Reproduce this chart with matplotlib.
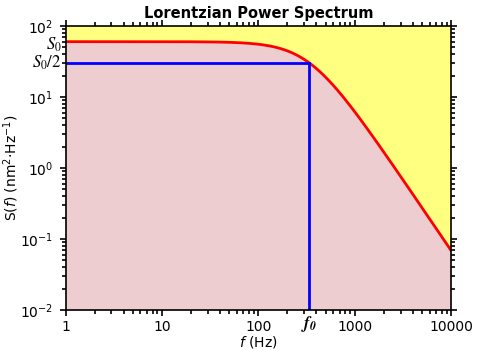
import numpy as np
import matplotlib.pyplot as plt
import matplotlib.transforms as mtransforms
from matplotlib.ticker import LogLocator, FixedLocator, NullFormatter

# Lorentzian parameters
S0 = 60.0        # plateau level (nm^2/Hz)
f0 = 340.0       # corner frequency (Hz)

x_ticks = [1, 10, 100, 1000, 10000]
x_tick_labels = ['1', '10', '100', '1000', '10000']
y_ticks = [1e-2, 1e-1, 1e0, 1e1, 1e2]
y_tick_labels = [r'$10^{-2}$', r'$10^{-1}$', r'$10^{0}$', r'$10^{1}$', r'$10^{2}$']

f = np.logspace(0, 4, 400)
S = S0 / (1 + (f / f0) ** 2)

fig = plt.figure(figsize=(5, 3.5), dpi=100)
ax = fig.add_axes([0.131, 0.114, 0.771, 0.812])

ax.set_xscale('log')
ax.set_yscale('log')
ax.set_xlim(1, 10000)
ax.set_ylim(1e-2, 1e2)

# yellow above the curve, pink below it
ax.set_facecolor('#ffff80')
ax.fill_between(f, 1e-2, S, color='#eecdd0', linewidth=0)
ax.plot(f, S, color='#ff0000', lw=2)

# half-power markers
ax.plot([1, f0], [S0 / 2, S0 / 2], color='#0000ff', lw=2)
ax.plot([f0, f0], [1e-2, S0 / 2], color='#0000ff', lw=2)

ax.xaxis.set_major_locator(FixedLocator(x_ticks))
ax.set_xticklabels(x_tick_labels)
ax.yaxis.set_major_locator(FixedLocator(y_ticks))
ax.set_yticklabels(y_tick_labels)
for axis in (ax.xaxis, ax.yaxis):
    axis.set_minor_locator(LogLocator(base=10, subs=np.arange(2, 10)))
    axis.set_minor_formatter(NullFormatter())

ax.tick_params(which='both', direction='out', top=True, right=True,
               labelsize=10, width=1.2, color='black')
ax.tick_params(which='major', length=4, pad=5)
ax.tick_params(axis='x', which='major', pad=3)
ax.tick_params(which='minor', length=3)
for sp in ax.spines.values():
    sp.set_linewidth(1.2)

# custom labels for S0, S0/2 and f0
down = mtransforms.ScaledTranslation(0, -2 / 72, fig.dpi_scale_trans)
ax.text(-0.01, S0, r'$S_0$', transform=ax.get_yaxis_transform() + down,
        ha='right', va='center', fontsize=12, math_fontfamily='stix')
ax.text(-0.01, S0 / 2, r'$S_0/2$', transform=ax.get_yaxis_transform(),
        ha='right', va='center', fontsize=12, math_fontfamily='stix')
ax.text(f0, -0.012, r'$\mathbfit{f}_\mathbfit{0}$', transform=ax.get_xaxis_transform(),
        ha='center', va='top', fontsize=12, math_fontfamily='stix')

ax.set_title('Lorentzian Power Spectrum', fontsize=10.5, fontweight='bold', pad=6)
ax.set_xlabel(r'$f$ (Hz)', fontsize=10)
ax.set_ylabel(r'S($f$) (nm$^2$$\cdot$Hz$^{-1}$)', fontsize=10)
ax.xaxis.set_label_coords(0.5, -0.083)
ax.yaxis.set_label_coords(-0.115, 0.5)

fig.savefig('out.png', dpi=100)
